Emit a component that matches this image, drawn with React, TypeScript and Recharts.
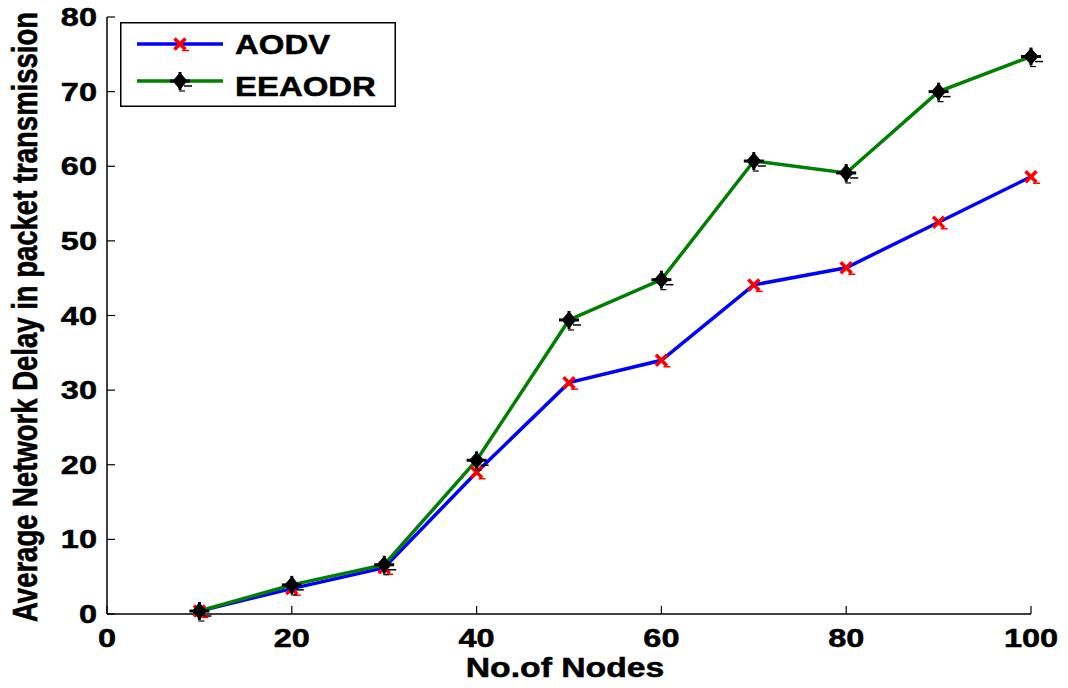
import { LineChart, Line, XAxis, YAxis, Legend } from 'recharts'

const nodes = [10, 20, 30, 40, 50, 60, 70, 80, 90, 100]
const aodv = [0.4, 3.4, 6.2, 19.0, 31.0, 34.0, 44.1, 46.4, 52.5, 58.6]
const eeaodr = [0.4, 3.9, 6.6, 20.6, 39.4, 44.8, 60.7, 59.1, 70.0, 74.7]
const xTicks = [0, 20, 40, 60, 80, 100]
const yTicks = [0, 10, 20, 30, 40, 50, 60, 70, 80]
const seriesNames = ['AODV', 'EEAODR']

const data = nodes.map((n, i) => ({ nodes: n, aodv: aodv[i], eeaodr: eeaodr[i] }))

const FONT = '"Liberation Sans", Arial, sans-serif'
const STRETCH = 1.25

const XTick = ({ x, y, payload }: any) => (
  <text
    transform={`translate(${x},${y + 33}) scale(${STRETCH},1)`}
    textAnchor="middle"
    fontFamily={FONT}
    fontWeight="bold"
    fontSize={26}
    fill="#000"
    stroke="#000"
    strokeWidth={0.5}
  >
    {payload.value}
  </text>
)

const YTick = ({ x, y, payload }: any) => (
  <text
    transform={`translate(${x},${y + 9}) scale(${STRETCH},1)`}
    textAnchor="end"
    fontFamily={FONT}
    fontWeight="bold"
    fontSize={26}
    fill="#000"
    stroke="#000"
    strokeWidth={0.5}
  >
    {payload.value}
  </text>
)

const CrossDot = ({ cx, cy }: any) => {
  if (cx == null || cy == null) return null
  const s = 5.5
  return (
    <g stroke="#ff0000" strokeWidth={3.5}>
      <line x1={cx - s} y1={cy - s} x2={cx + s} y2={cy + s} />
      <line x1={cx - s} y1={cy + s} x2={cx + s} y2={cy - s} />
      <line x1={cx + 2} y1={cy + 6.5} x2={cx + 9} y2={cy + 6.5} strokeWidth={1.5} />
    </g>
  )
}

const StarDot = ({ cx, cy }: any) => {
  if (cx == null || cy == null) return null
  return (
    <g fill="#000" stroke="#000">
      <polygon
        points={`${cx},${cy - 8} ${cx + 7},${cy} ${cx},${cy + 8} ${cx - 7},${cy}`}
        strokeWidth={1}
      />
      <line x1={cx - 10} y1={cy} x2={cx + 10} y2={cy} strokeWidth={3} />
      <line x1={cx} y1={cy - 9} x2={cx} y2={cy + 9} strokeWidth={3} />
      <line x1={cx + 4} y1={cy + 5} x2={cx + 12} y2={cy + 5} strokeWidth={1.5} />
      <line x1={cx - 1} y1={cy + 10} x2={cx + 5} y2={cy + 10} strokeWidth={1.2} />
    </g>
  )
}

const LegendBox = () => (
  <svg width={276} height={85} style={{ display: 'block' }}>
    <rect x={0.75} y={0.75} width={274.5} height={83.5} fill="#fff" stroke="#000" strokeWidth={1.5} />
    <line x1={17} y1={22} x2={103} y2={22} stroke="#0000ff" strokeWidth={3.5} />
    <CrossDot cx={60} cy={22} />
    <line x1={17} y1={59} x2={103} y2={59} stroke="#008000" strokeWidth={3.5} />
    <StarDot cx={60} cy={59} />
    {seriesNames.map((name, i) => (
      <text
        key={name}
        transform={`translate(115,${i === 0 ? 32 : 74}) scale(1.22,1)`}
        fontFamily={FONT}
        fontWeight="bold"
        fontSize={27}
        fill="#000"
        stroke="#000"
        strokeWidth={0.5}
      >
        {name}
      </text>
    ))}
  </svg>
)

const YTitle = () => (
  <text
    transform="translate(37,317) rotate(-90) scale(1,1.25)"
    textAnchor="middle"
    fontFamily={FONT}
    fontWeight="bold"
    fontSize={27.5}
    fill="#000"
    stroke="#000"
    strokeWidth={0.5}
  >
    Average Network Delay in packet transmission
  </text>
)

const XTitle = () => (
  <text
    transform={`translate(565,677) scale(${STRETCH},1)`}
    textAnchor="middle"
    fontFamily={FONT}
    fontWeight="bold"
    fontSize={27}
    fill="#000"
    stroke="#000"
    strokeWidth={0.5}
  >
    No.of Nodes
  </text>
)

export default function App() {
  return (
    <div style={{ position: 'absolute', left: 0, top: 0, background: '#fff' }}>
      <LineChart
        width={1068}
        height={688}
        data={data}
        margin={{ top: 17, right: 37, bottom: 14, left: 27 }}
      >
        <XAxis
          dataKey="nodes"
          type="number"
          domain={[0, 100]}
          ticks={xTicks}
          height={60}
          tickSize={-8}
          tickMargin={8}
          tick={<XTick />}
          axisLine={{ stroke: '#000', strokeWidth: 1.5 }}
          tickLine={{ stroke: '#000', strokeWidth: 1.2 }}
          label={{ content: () => <XTitle /> }}
        />
        <XAxis
          xAxisId="top"
          dataKey="nodes"
          orientation="top"
          type="number"
          domain={[0, 100]}
          ticks={xTicks}
          height={0}
          tickSize={-8}
          tickFormatter={() => ''}
          axisLine={{ stroke: '#000', strokeWidth: 1.5 }}
          tickLine={{ stroke: '#000', strokeWidth: 1.2 }}
        />
        <YAxis
          type="number"
          domain={[0, 80]}
          ticks={yTicks}
          width={80}
          tickSize={-8}
          tickMargin={18}
          tick={<YTick />}
          axisLine={{ stroke: '#000', strokeWidth: 1.5 }}
          tickLine={{ stroke: '#000', strokeWidth: 1.2 }}
          label={{ content: () => <YTitle /> }}
        />
        <YAxis
          yAxisId="right"
          orientation="right"
          type="number"
          domain={[0, 80]}
          ticks={yTicks}
          width={0}
          tickSize={-8}
          tickFormatter={() => ''}
          axisLine={{ stroke: '#000', strokeWidth: 1.5 }}
          tickLine={{ stroke: '#000', strokeWidth: 1.2 }}
        />
        <Legend
          layout="vertical"
          align="center"
          verticalAlign="middle"
          wrapperStyle={{ left: 120, top: 22, width: 276, height: 85 }}
          content={() => <LegendBox />}
        />
        <Line
          dataKey="aodv"
          name="AODV"
          stroke="#0000ff"
          strokeWidth={3.5}
          dot={<CrossDot />}
          activeDot={false}
          isAnimationActive={false}
        />
        <Line
          dataKey="eeaodr"
          name="EEAODR"
          stroke="#008000"
          strokeWidth={3.5}
          dot={<StarDot />}
          activeDot={false}
          isAnimationActive={false}
        />
      </LineChart>
    </div>
  )
}
